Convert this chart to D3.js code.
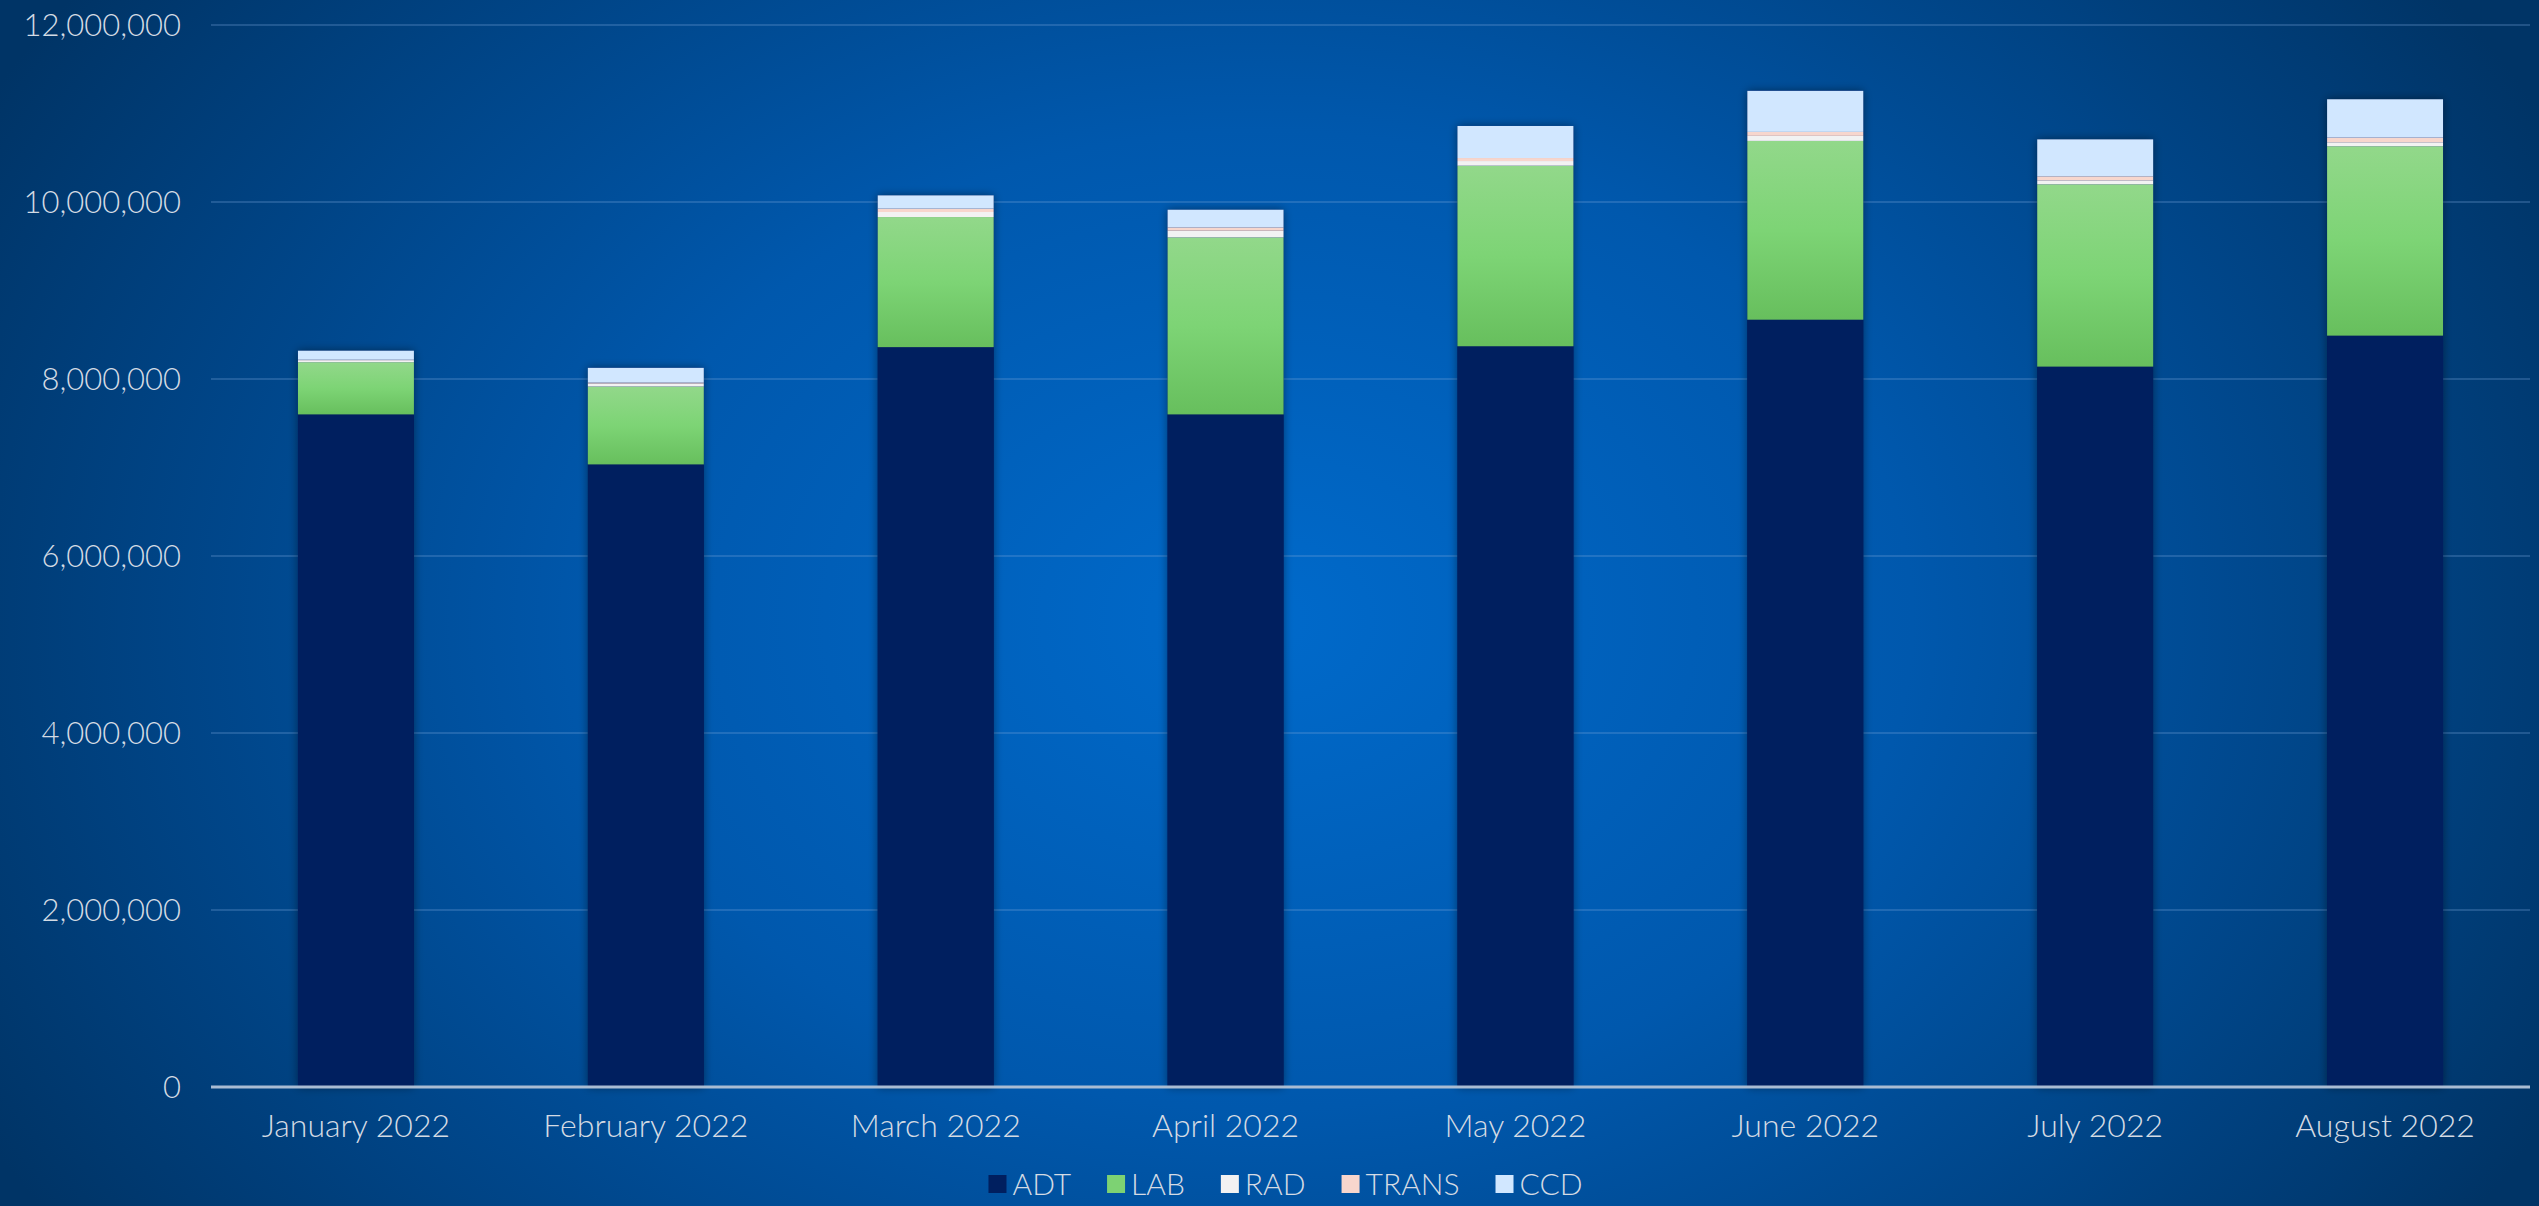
<!DOCTYPE html>
<html>
<head>
<meta charset="utf-8">
<script src="https://cdn.jsdelivr.net/npm/d3@7"></script>
<style>
html,body{margin:0;padding:0;background:#00427f;overflow:hidden;}
svg{display:block;}
text{font-family:Lato,"Open Sans","Noto Sans",sans-serif;font-weight:300;}
</style>
</head>
<body>
<svg id="chart" width="2539" height="1206"></svg>
<script>
const categories = ["January 2022","February 2022","March 2022","April 2022","May 2022","June 2022","July 2022","August 2022"];
const seriesNames = ["ADT","LAB","RAD","TRANS","CCD"];
const ADT   = [7600000, 7035000, 8360000, 7600000, 8370000, 8670000, 8140000, 8490000];
const LAB   = [ 590000,  880000, 1470000, 2000000, 2040000, 2020000, 2060000, 2140000];
const RAD   = [  23000,   34000,   57000,   75000,   53000,   57000,   45000,   45000];
const TRANS = [   5000,   11000,   38000,   38000,   34000,   45000,   45000,   53000];
const CCD   = [ 102000,  166000,  150000,  200000,  362000,  464000,  418000,  433000];
const yTicks = [0, 2000000, 4000000, 6000000, 8000000, 10000000, 12000000];
const colors = {ADT:"#001f5f", LAB:"url(#labGrad)", RAD:"#f2f2f2", TRANS:"#f7d6cd", CCD:"#d1e7ff"};
const legendColors = {ADT:"#001f5f", LAB:"#7dd273", RAD:"#f2f2f2", TRANS:"#f7d6cd", CCD:"#d1e7ff"};

const W = 2539, H = 1206;
const m = {left:211, right:9, top:25, bottom:120};
const svg = d3.select("#chart");
const defs = svg.append("defs");

const bg = defs.append("radialGradient").attr("id","bgGrad")
  .attr("gradientUnits","userSpaceOnUse").attr("cx",1260).attr("cy",620).attr("r",1450)
  .attr("gradientTransform","translate(1260,620) scale(1,0.75) translate(-1260,-620)");
bg.append("stop").attr("offset","0").attr("stop-color","#006acb");
bg.append("stop").attr("offset","0.45").attr("stop-color","#0058ad");
bg.append("stop").attr("offset","1").attr("stop-color","#003466");

const lab = defs.append("linearGradient").attr("id","labGrad").attr("x1",0).attr("y1",0).attr("x2",0).attr("y2",1);
lab.append("stop").attr("offset","0").attr("stop-color","#92d88a");
lab.append("stop").attr("offset","0.5").attr("stop-color","#7dd475");
lab.append("stop").attr("offset","1").attr("stop-color","#67bf5d");

const sh = defs.append("filter").attr("id","shadow").attr("x","-30%").attr("y","-10%").attr("width","160%").attr("height","120%");
sh.append("feGaussianBlur").attr("in","SourceAlpha").attr("stdDeviation",5).attr("result","b");
sh.append("feOffset").attr("in","b").attr("dx",0).attr("dy",0).attr("result","o");
sh.append("feComponentTransfer").attr("in","o").attr("result","s")
  .append("feFuncA").attr("type","linear").attr("slope",0.45);
const mg = sh.append("feMerge");
mg.append("feMergeNode").attr("in","s");
mg.append("feMergeNode").attr("in","SourceGraphic");

svg.append("rect").attr("width",W).attr("height",H).attr("fill","url(#bgGrad)");

const x = d3.scaleBand().domain(categories).range([m.left, W - m.right]).paddingInner(0.6).paddingOuter(0.3);
const y = d3.scaleLinear().domain([0, 12000000]).range([1087, m.top]);

// gridlines
svg.append("g").selectAll("line").data(yTicks.filter(d=>d>0)).join("line")
  .attr("x1", m.left).attr("x2", W - m.right)
  .attr("y1", d=>y(d)).attr("y2", d=>y(d))
  .attr("stroke","rgba(120,165,220,0.28)").attr("stroke-width",2);

// y labels
const fmt = d3.format(",");
svg.append("g").selectAll("text").data(yTicks).join("text")
  .attr("x", 181).attr("y", d=>y(d)).attr("dy","0.35em")
  .attr("text-anchor","end").attr("fill","#d4dbe4").attr("font-size",31)
  .text(d=>fmt(d));

// stacked data
const rows = categories.map((c,i)=>({cat:c, ADT:ADT[i], LAB:LAB[i], RAD:RAD[i], TRANS:TRANS[i], CCD:CCD[i]}));
const stack = d3.stack().keys(seriesNames)(rows);

const barsG = svg.append("g");
barsG.append("g").selectAll("rect").data(rows).join("rect")
  .attr("x", d=>x(d.cat)).attr("width", x.bandwidth())
  .attr("y", d=>y(d.ADT+d.LAB+d.RAD+d.TRANS+d.CCD))
  .attr("height", d=>y(0)-y(d.ADT+d.LAB+d.RAD+d.TRANS+d.CCD))
  .attr("fill","#001f5f").attr("filter","url(#shadow)");

stack.forEach(s=>{
  barsG.append("g").selectAll("rect").data(s).join("rect")
    .attr("x", d=>x(d.data.cat)).attr("width", x.bandwidth())
    .attr("y", d=>y(d[1])).attr("height", d=>Math.max(0, y(d[0])-y(d[1])))
    .attr("fill", colors[s.key]);
});

// x axis line
svg.append("line").attr("x1", m.left).attr("x2", W - m.right)
  .attr("y1", y(0)).attr("y2", y(0))
  .attr("stroke","#a9bcd3").attr("stroke-width",3);

// x labels
svg.append("g").selectAll("text").data(categories).join("text")
  .attr("x", d=>x(d)+x.bandwidth()/2).attr("y", 1126).attr("dy","0.35em")
  .attr("text-anchor","middle").attr("fill","#d4dbe4").attr("font-size",32)
  .text(d=>d);

// legend
const lg = svg.append("g");
const items = lg.selectAll("g").data(seriesNames).join("g");
items.append("rect").attr("width",18).attr("height",18).attr("y",-9)
  .attr("fill", d=>legendColors[d]);
items.append("text").attr("x",24).attr("dy","0.35em").attr("font-size",30)
  .attr("fill","#d4dbe4").text(d=>d);
let cx = 0;
items.each(function(){
  const g = d3.select(this);
  g.attr("transform",`translate(${cx},0)`);
  cx += this.getBBox().width + 36;
});
const total = cx - 36;
lg.attr("transform",`translate(${(W/2 + 16) - total/2},1184)`);
</script>
</body>
</html>
